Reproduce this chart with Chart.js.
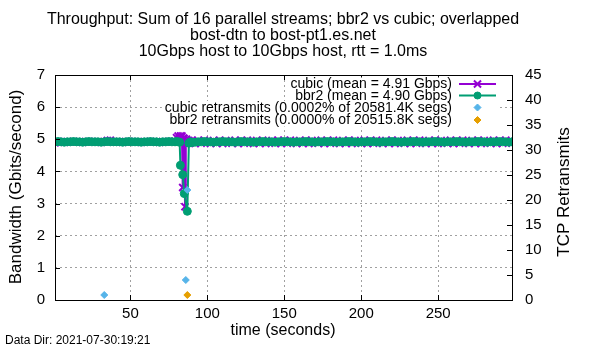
<!DOCTYPE html>
<html>
<head>
<meta charset="utf-8">
<script src="https://cdn.jsdelivr.net/npm/chart.js@4"></script>
<style>
html,body{margin:0;padding:0;background:#fff;}
canvas{display:block;}
</style>
</head>
<body>
<canvas id="c" width="600" height="350"></canvas>
<script>
// ---------- data ----------
const titleLines = [
  "Throughput: Sum of 16 parallel streams; bbr2 vs cubic; overlapped",
  "bost-dtn to bost-pt1.es.net",
  "10Gbps host to 10Gbps host, rtt = 1.0ms"
];
const seriesNames = [
  "cubic (mean = 4.91 Gbps)",
  "bbr2 (mean = 4.90 Gbps)",
  "cubic retransmits (0.0002% of 20581.4K segs)",
  "bbr2 retransmits (0.0000% of 20515.8K segs)"
];
const xTicks = [50, 100, 150, 200, 250];
const yTicks = [0, 1, 2, 3, 4, 5, 6, 7];
const y2Ticks = [0, 5, 10, 15, 20, 25, 30, 35, 40, 45];

const seconds = [
  1,3,5,7,9,11,13,15,17,19,21,23,25,27,29,31,33,35,37,39,41,43,45,47,49,51,53,55,57,59,61,63,65,67,69,71,73,75,77,
  79,80,81,82,82.5,83,83.5,84,84.5,85,85.5,86,86.5,87,87.5,88,89,
  90,92,94,96,98,100,102,104,106,108,110,112,114,116,118,120,122,124,126,128,130,132,134,136,138,140,142,144,146,148,
  150,152,154,156,158,160,162,164,166,168,170,172,174,176,178,180,182,184,186,188,190,192,194,196,198,200,202,204,206,208,
  210,212,214,216,218,220,222,224,226,228,230,232,234,236,238,240,242,244,246,248,250,252,254,256,258,260,262,264,266,268,
  270,272,274,276,278,280,282,284,286,288,290,292,294,296,298
];

const cubicGbps = [
  4.89,4.93,4.92,4.91,4.92,4.92,4.93,4.92,4.92,4.91,4.92,4.93,4.92,4.92,4.92,4.91,4.92,4.96,4.97,4.92,4.92,4.92,4.91,4.92,4.93,4.92,4.92,4.92,4.91,4.92,4.92,4.93,4.92,4.92,4.91,4.92,4.92,4.93,4.92,
  4.94,5.05,5.10,5.03,5.10,5.06,5.10,3.50,5.04,5.02,2.90,4.98,5.00,4.95,4.90,4.96,4.89,
  4.97,4.87,4.96,4.88,4.97,4.92,4.87,4.96,4.88,4.97,
  4.87,4.96,4.92,4.88,4.97,4.87,4.96,4.88,4.97,4.92,
  4.87,4.96,4.88,4.97,4.87,4.92,4.96,4.88,4.97,4.87,
  4.96,4.88,4.97,4.92,4.87,4.96,4.88,4.97,4.87,4.96,
  4.92,4.88,4.97,4.87,4.96,4.88,4.97,4.92,4.87,4.96,
  4.88,4.97,4.87,4.96,4.92,4.88,4.97,4.87,4.96,4.88,
  4.97,4.92,4.87,4.96,4.88,4.97,4.87,4.96,4.92,4.88,
  4.97,4.87,4.96,4.88,4.97,4.92,4.87,4.96,4.88,4.97,
  4.87,4.96,4.92,4.88,4.97,4.87,4.96,4.88,4.97,4.92,
  4.87,4.96,4.88,4.97,4.87,4.96,4.92,4.88,4.97,4.87,
  4.96,4.88,4.97,4.92,4.88
];

const bbr2Gbps = [
  4.92,4.93,4.92,4.91,4.92,4.92,4.93,4.92,4.92,4.91,4.92,4.93,4.92,4.92,4.92,4.91,4.92,4.93,4.92,4.92,4.92,4.92,4.91,4.92,4.93,4.92,4.92,4.92,4.91,4.92,4.92,4.93,4.92,4.92,4.91,4.92,4.92,4.93,4.92,
  4.92,4.93,4.92,4.91,4.19,null,null,3.90,null,3.31,null,null,null,2.76,null,4.88,4.92,
  4.90,4.91,4.92,4.92,4.93,4.92,4.92,4.91,4.92,4.92,
  4.93,4.92,4.92,4.92,4.91,4.92,4.93,4.92,4.92,4.92,
  4.91,4.92,4.92,4.93,4.92,4.92,4.92,4.91,4.92,4.92,
  4.93,4.92,4.92,4.91,4.92,4.92,4.92,4.93,4.92,4.92,
  4.91,4.92,4.92,4.92,4.93,4.92,4.92,4.91,4.92,4.92,
  4.92,4.93,4.92,4.92,4.91,4.92,4.92,4.92,4.93,4.92,
  4.92,4.91,4.92,4.92,4.92,4.93,4.92,4.92,4.91,4.92,
  4.92,4.92,4.93,4.92,4.92,4.91,4.92,4.92,4.92,4.93,
  4.92,4.92,4.91,4.92,4.92,4.92,4.93,4.92,4.92,4.91,
  4.92,4.92,4.92,4.93,4.92,4.92,4.91,4.92,4.92,4.92,
  4.93,4.92,4.92,4.91,4.92
];

const cubicRetransTimes = [33, 86, 87];
const cubicRetrans = [1, 4, 22];
const bbr2RetransTimes = [87];
const bbr2Retrans = [1];

// ---------- styling ----------
const FONT = "'Liberation Sans', Arial, sans-serif";
const C_CUBIC = '#9400d3';
const C_BBR2 = '#009e73';
const C_CRET = '#56b4e9';
const C_BRET = '#e69f00';

const toXY = (ts, vs) => ts.map((t, i) => ({x: t, y: vs[i]}));

const datasets = [
  {label: seriesNames[0], data: toXY(seconds, cubicGbps), yAxisID: 'y', order: 3,
   borderColor: C_CUBIC, backgroundColor: C_CUBIC, borderWidth: 2,
   pointStyle: 'crossRot', pointRadius: 5, pointBorderWidth: 2, spanGaps: true},
  {label: seriesNames[1], data: toXY(seconds, bbr2Gbps), yAxisID: 'y', order: 2,
   borderColor: C_BBR2, backgroundColor: C_BBR2, borderWidth: 2,
   pointStyle: 'circle', pointRadius: 4, pointBorderWidth: 1, spanGaps: true},
  {label: seriesNames[2], data: toXY(cubicRetransTimes, cubicRetrans), yAxisID: 'y2', order: 0,
   showLine: false, borderColor: C_CRET, backgroundColor: C_CRET,
   pointStyle: 'rectRot', pointRadius: 3.5, pointBorderWidth: 1},
  {label: seriesNames[3], data: toXY(bbr2RetransTimes, bbr2Retrans), yAxisID: 'y2', order: 1,
   showLine: false, borderColor: C_BRET, backgroundColor: C_BRET,
   pointStyle: 'rectRot', pointRadius: 3.5, pointBorderWidth: 1}
];

function drawMarker(ctx, style, x, y, r, bw) {
  Chart.helpers.drawPoint(ctx, {pointStyle: style, radius: r, borderWidth: bw, rotation: 0}, x, y);
}

const deco = {
  id: 'deco',
  afterDraw(chart) {
    const ctx = chart.ctx, a = chart.chartArea;
    const xs = chart.scales.x, ys = chart.scales.y, y2s = chart.scales.y2;
    ctx.save();
    // inward tick marks
    ctx.strokeStyle = '#000'; ctx.lineWidth = 1;
    ctx.beginPath();
    xTicks.forEach(v => {
      const px = Math.round(xs.getPixelForValue(v)) + 0.5;
      ctx.moveTo(px, a.bottom); ctx.lineTo(px, a.bottom - 5);
      ctx.moveTo(px, a.top); ctx.lineTo(px, a.top + 5);
    });
    yTicks.forEach(v => {
      const py = Math.round(ys.getPixelForValue(v)) + 0.5;
      ctx.moveTo(a.left, py); ctx.lineTo(a.left + 5, py);
    });
    y2Ticks.forEach(v => {
      const py = Math.round(y2s.getPixelForValue(v)) + 0.5;
      ctx.moveTo(a.right, py); ctx.lineTo(a.right - 5, py);
    });
    ctx.stroke();

    // legend (opaque rows)
    const rowsY = [84, 95.5, 107.5, 120];
    const textRight = 452, sx0 = 459, sx1 = 496, sxm = 477.5;
    ctx.font = '14px ' + FONT;
    ctx.textBaseline = 'middle';
    ctx.textAlign = 'right';
    seriesNames.forEach((name, i) => {
      const w = ctx.measureText(name).width;
      ctx.fillStyle = '#fff';
      ctx.fillRect(textRight - w - 3, rowsY[i] - 6.5, (sx1 + 4) - (textRight - w - 3), 13);
    });
    seriesNames.forEach((name, i) => {
      const ds = datasets[i];
      ctx.fillStyle = '#000';
      ctx.fillText(name, textRight, rowsY[i] + 0.5);
      ctx.strokeStyle = ds.borderColor; ctx.fillStyle = ds.backgroundColor;
      if (ds.showLine !== false) {
        ctx.lineWidth = 2;
        ctx.beginPath(); ctx.moveTo(sx0, rowsY[i]); ctx.lineTo(sx1, rowsY[i]); ctx.stroke();
      }
      ctx.lineWidth = ds.pointBorderWidth;
      drawMarker(ctx, ds.pointStyle, sxm, rowsY[i],
        ds.pointStyle === 'circle' ? 3.5 : ds.pointRadius, ds.pointBorderWidth);
    });

    // plot border
    ctx.strokeStyle = '#000'; ctx.lineWidth = 1;
    ctx.strokeRect(Math.round(a.left) + 0.5, Math.round(a.top) + 0.5,
      Math.round(a.right - a.left), Math.round(a.bottom - a.top));

    // title
    ctx.fillStyle = '#000';
    ctx.textAlign = 'center'; ctx.textBaseline = 'middle';
    ctx.font = '16px ' + FONT;
    titleLines.forEach((t, i) => ctx.fillText(t, 283, 20 + i * 16));

    // axis titles
    ctx.fillText('time (seconds)', 283, 331);
    ctx.font = '17px ' + FONT;
    ctx.save();
    ctx.translate(16, 187); ctx.rotate(-Math.PI / 2);
    ctx.fillText('Bandwidth (Gbits/second)', 0, 0);
    ctx.restore();
    ctx.save();
    ctx.translate(564, 192); ctx.rotate(-Math.PI / 2);
    ctx.fillText('TCP Retransmits', 0, 0);
    ctx.restore();

    // footer
    ctx.textAlign = 'left';
    ctx.font = '12px ' + FONT;
    ctx.fillText('Data Dir: 2021-07-30:19:21', 5, 341);
    ctx.restore();
  }
};

const gridStyle = {color: '#a0a0a0', lineWidth: 1, drawTicks: false};
const tickFont = {family: FONT, size: 15};

new Chart(document.getElementById('c'), {
  type: 'line',
  data: {datasets},
  options: {
    responsive: false,
    animation: false,
    layout: {padding: {top: 75, left: 0, right: 0, bottom: 0}},
    plugins: {legend: {display: false}, title: {display: false}, tooltip: {enabled: false}},
    elements: {line: {tension: 0}},
    scales: {
      x: {
        type: 'linear', min: 1, max: 298,
        afterBuildTicks(s) { s.ticks = xTicks.map(v => ({value: v})); },
        afterFit(s) { s.height = 50; },
        grid: gridStyle,
        border: {display: false, dash: [2, 3]},
        ticks: {padding: 5, color: '#000', font: tickFont, maxRotation: 0, autoSkip: false}
      },
      y: {
        type: 'linear', position: 'left', min: 0, max: 7,
        afterBuildTicks(s) { s.ticks = yTicks.map(v => ({value: v})); },
        afterFit(s) { s.width = 55; },
        grid: gridStyle,
        border: {display: false, dash: [2, 3]},
        ticks: {padding: 10, color: '#000', font: tickFont}
      },
      y2: {
        type: 'linear', position: 'right', min: 0, max: 45,
        afterBuildTicks(s) { s.ticks = y2Ticks.map(v => ({value: v})); },
        afterFit(s) { s.width = 88; },
        grid: {display: false, drawTicks: false},
        border: {display: false},
        ticks: {padding: 13, color: '#000', font: tickFont}
      }
    }
  },
  plugins: [deco]
});
</script>
</body>
</html>
